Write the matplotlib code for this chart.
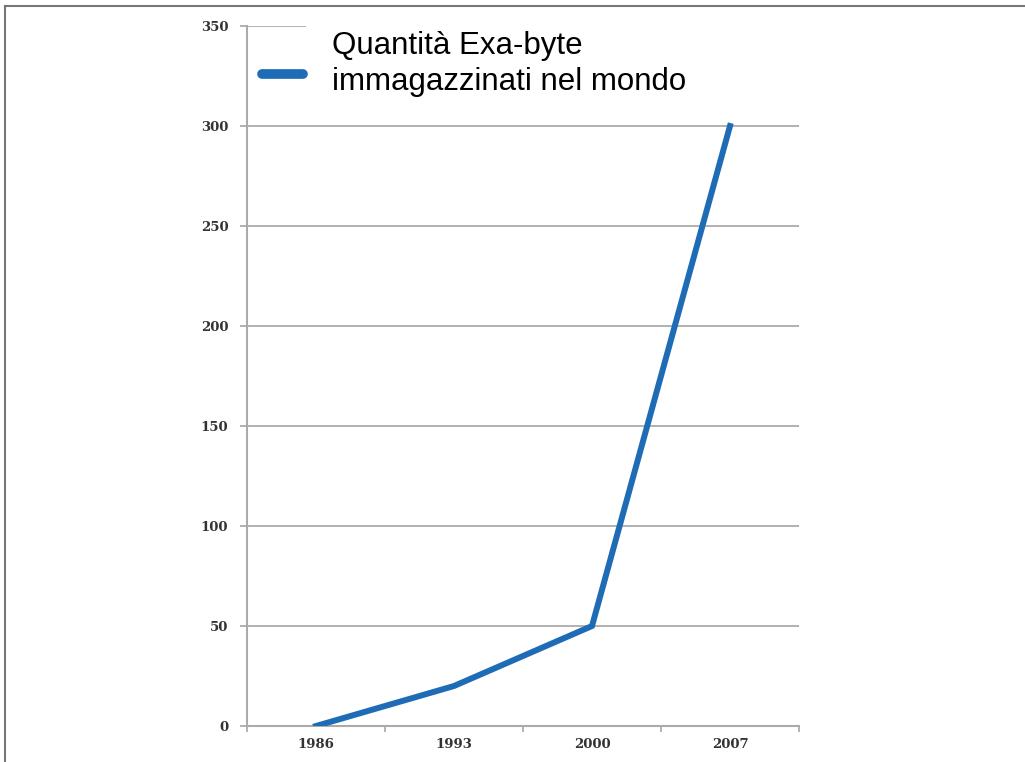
import matplotlib
matplotlib.use("Agg")
import matplotlib.pyplot as plt
from matplotlib.lines import Line2D
from matplotlib.patches import Rectangle
import numpy as np

# Exabytes of data stored worldwide, by year
years = ["1986", "1993", "2000", "2007"]
exabytes = [0, 20, 50, 300]
y_ticks = [0, 50, 100, 150, 200, 250, 300, 350]
series_label = "Quantità Exa-byte\nimmagazzinati nel mondo"

blue = "#1f6cb6"
gray = "#ababab"

fig = plt.figure(figsize=(10.25, 7.62), dpi=100)
ax = fig.add_axes([247 / 1025, 1 - 726 / 762, 552 / 1025, 700 / 762])

x = list(range(len(years)))
ax.plot(x, exabytes, color=blue, linewidth=4.3, solid_joinstyle="miter", zorder=3)

ax.set_xlim(-0.5, len(years) - 0.5)
ax.set_ylim(0, 350)

# category axis: tick marks between the years, labels centred on them
ax.set_xticks([i - 0.5 for i in range(len(years) + 1)])
ax.set_xticklabels([])
ax.set_xticks(x, minor=True)
ax.set_xticklabels(years, minor=True, fontfamily="DejaVu Serif", fontweight="bold",
                   fontsize=9.5, color="#333333")
ax.tick_params(axis="x", which="major", direction="out", length=4, width=1.3, color=gray)
ax.tick_params(axis="x", which="minor", length=0, pad=9)

ax.set_yticks(y_ticks)
ax.set_yticklabels([str(v) for v in y_ticks], fontfamily="DejaVu Serif", fontweight="bold",
                   fontsize=9.5, color="#333333")
ax.tick_params(axis="y", direction="out", length=5, width=1.3, color=gray, pad=8.5)

ax.set_axisbelow(True)
ax.yaxis.grid(True, color=gray, linewidth=1.3)
for side in ("top", "right"):
    ax.spines[side].set_visible(False)
for side in ("left", "bottom"):
    ax.spines[side].set_color(gray)
    ax.spines[side].set_linewidth(1.5)

# white block behind the legend text hides the top gridline there
ax.add_patch(Rectangle((0.107, 0.985), 0.92, 0.04, transform=ax.transAxes,
                       facecolor="white", edgecolor="none", zorder=1, clip_on=False))

handle = Line2D([], [], color=blue, linewidth=7, solid_capstyle="round")
leg = ax.legend([handle], [series_label], loc="upper left",
                bbox_to_anchor=(262 / 1025, 1 - 31 / 762), bbox_transform=fig.transFigure,
                frameon=False, borderpad=0, borderaxespad=0,
                handlelength=1.3, handletextpad=0.95,
                prop={"family": "Liberation Sans", "size": 22.5})
for t in leg.get_texts():
    t.set_linespacing(1.28)
# drop the swatch a little so it sits nearer the second line
swatch = leg.legend_handles[0]
swatch.set_ydata(np.asarray(swatch.get_ydata()) - 6.5)

# thin frame along the top and left edges of the figure
fig.add_artist(Line2D([4.5 / 1025, 1], [1 - 5.5 / 762, 1 - 5.5 / 762],
                      transform=fig.transFigure, color="#777777", linewidth=1.5))
fig.add_artist(Line2D([4.5 / 1025, 4.5 / 1025], [0, 1 - 5.5 / 762],
                      transform=fig.transFigure, color="#777777", linewidth=1.5))

fig.savefig("out.png", dpi=100)
